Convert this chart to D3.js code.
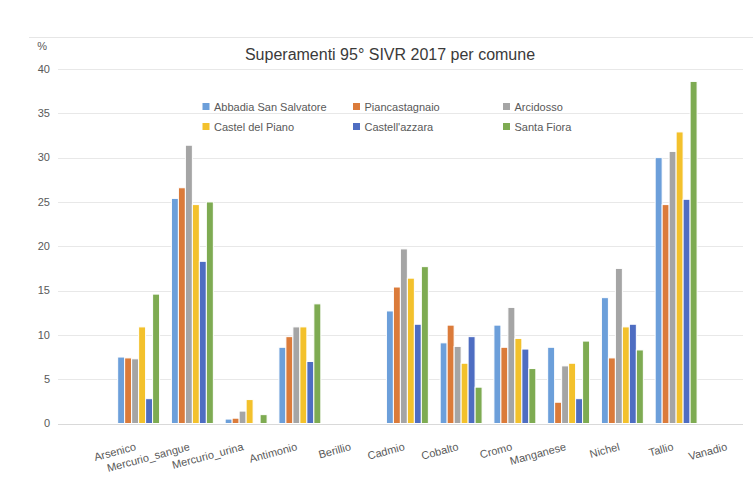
<!DOCTYPE html>
<html><head><meta charset="utf-8">
<script src="https://cdn.jsdelivr.net/npm/d3@7"></script>
<style>body{margin:0;background:#fff}svg{display:block}text{font-family:"Liberation Sans",Arial,sans-serif}</style>
</head><body>
<script>
const categories = ["Arsenico","Mercurio_sangue","Mercurio_urina","Antimonio","Berillio","Cadmio","Cobalto","Cromo","Manganese","Nichel","Tallio","Vanadio"];
const seriesNames = ["Abbadia San Salvatore","Piancastagnaio","Arcidosso","Castel del Piano","Castell'azzara","Santa Fiora"];
const abbadia      = [7.5, 25.4, 0.5, 8.6, 0, 12.7, 9.1, 11.1, 8.6, 14.2, 30.0, 0];
const piancastagnaio = [7.4, 26.6, 0.6, 9.8, 0, 15.4, 11.1, 8.6, 2.4, 7.4, 24.7, 0];
const arcidosso    = [7.3, 31.4, 1.4, 10.9, 0, 19.7, 8.7, 13.1, 6.5, 17.5, 30.7, 0];
const castelPiano  = [10.9, 24.7, 2.7, 10.9, 0, 16.4, 6.8, 9.6, 6.8, 10.9, 32.9, 0];
const castellazzara = [2.8, 18.3, 0, 7.0, 0, 11.2, 9.8, 8.4, 2.8, 11.2, 25.3, 0];
const santaFiora   = [14.6, 25.0, 1.0, 13.5, 0, 17.7, 4.1, 6.2, 9.3, 8.3, 38.6, 0];
const seriesValues = [abbadia, piancastagnaio, arcidosso, castelPiano, castellazzara, santaFiora];
const colors = ["#6C9FDA","#DB7B3A","#A5A5A5","#F3C12C","#4E6DC2","#7EAB52"];
const yTicks = [0,5,10,15,20,25,30,35,40];
const title = "Superamenti 95° SIVR 2017 per comune";

const W = 753, H = 495;
const svg = d3.select("body").append("svg").attr("width", W).attr("height", H);

// frame line on top
svg.append("line").attr("x1",29).attr("x2",W).attr("y1",37.5).attr("y2",37.5).attr("stroke","#E6E6E6");

const plotLeft = 58, plotRight = 743;
const y = d3.scaleLinear().domain([0,40]).range([423.5,69]);
const x = d3.scaleBand().domain(categories).range([111.75, 756.75]).paddingInner(0.22).paddingOuter(0.11);
const xs = d3.scaleBand().domain(d3.range(seriesNames.length)).range([0, x.bandwidth()]);

// gridlines
svg.append("g").selectAll("line").data(yTicks).join("line")
  .attr("x1", plotLeft).attr("x2", plotRight)
  .attr("y1", d => Math.round(y(d))+0.5).attr("y2", d => Math.round(y(d))+0.5)
  .attr("stroke", d => d===0 ? "#D9D9D9" : "#E8E8E8").attr("stroke-width",1);

// y labels
svg.append("g").selectAll("text").data(yTicks).join("text")
  .attr("x", 50).attr("y", d => y(d)).attr("dy","0.35em")
  .attr("text-anchor","end").attr("font-size",11).attr("fill","#595959").text(d => d);
svg.append("text").attr("x",47).attr("y",50).attr("text-anchor","end").attr("font-size",11).attr("fill","#595959").text("%");

// title
svg.append("text").attr("x",390).attr("y",60).attr("text-anchor","middle").attr("font-size",16).attr("fill","#3A3A3A").text(title);

// bars
const groups = svg.append("g").selectAll("g").data(categories).join("g")
  .attr("transform", d => `translate(${x(d)},0)`);
groups.selectAll("rect").data((c,i) => seriesValues.map((s,k) => ({k, v: s[i]})).filter(d => d.v > 0)).join("rect")
  .attr("x", d => xs(d.k)).attr("width", xs.bandwidth())
  .attr("y", d => y(d.v)).attr("height", d => y(0) - y(d.v))
  .attr("fill", d => colors[d.k]).attr("stroke","#fff").attr("stroke-width",1);

// x labels
svg.append("g").selectAll("text").data(categories).join("text")
  .attr("transform", d => `translate(${x(d)+x.bandwidth()/2-2},450) rotate(-15)`)
  .attr("text-anchor","end").attr("font-size",11).attr("fill","#595959").text(d => d);

// legend
const legX = [202.5, 353, 503], legY = [107, 127];
const leg = svg.append("g").selectAll("g").data(seriesNames).join("g")
  .attr("transform", (d,i) => `translate(${legX[i%3]},${legY[Math.floor(i/3)]})`);
leg.append("rect").attr("x",0).attr("y",-4).attr("width",7).attr("height",7).attr("fill",(d,i)=>colors[i]);
leg.append("text").attr("x",11.5).attr("y",0).attr("dy","0.35em").attr("font-size",11).attr("fill","#595959").text(d=>d);
</script>
</body></html>
